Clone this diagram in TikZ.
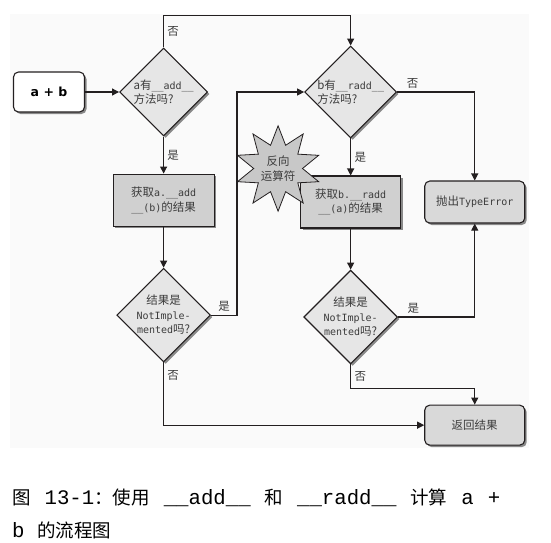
\documentclass[tikz,border=0pt]{standalone}
\usepackage{fontspec}
\setmainfont{Noto Sans CJK SC}
\setmonofont{DejaVu Sans Mono}
\newfontfamily\startfont{DejaVu Sans}
\newfontfamily\capmono{Liberation Mono}
\usetikzlibrary{shapes.geometric, arrows.meta, positioning, calc, shadows}
\usepackage{xcolor}

\definecolor{bgfill}{HTML}{FAFAFA}
\definecolor{linec}{HTML}{231F20}
\definecolor{txtc}{HTML}{3C3C3C}
\definecolor{diamfill}{HTML}{E6E6E6}
\definecolor{boxfill}{HTML}{D0D0D0}
\definecolor{termfill}{HTML}{D9D9D9}
\definecolor{starfill}{HTML}{C8C8C8}

\newcommand{\nodefont}{\fontsize{11.5}{14.5}\selectfont}
\newcommand{\code}[1]{{\ttfamily\fontsize{10}{14.5}\selectfont #1}}
\newcommand{\capcode}[1]{{\capmono\fontsize{20.7}{30}\selectfont #1}}

\begin{document}
\begin{tikzpicture}[
    x=1pt, y=1pt,
    shade/.style = {drop shadow={shadow xshift=2pt, shadow yshift=-2pt, opacity=0.45, fill=black}},
    decision/.style = {diamond, draw=linec, line width=1.1pt, fill=diamfill, minimum width=88pt, minimum height=88pt, inner sep=0pt, align=#1, font=\nodefont, text=txtc, shade},
    decision/.default = center,
    box/.style = {rectangle, draw=linec, line width=1.1pt, fill=boxfill, minimum width=101pt, minimum height=52pt, align=center, font=\nodefont, text=txtc, shade},
    term/.style = {rectangle, rounded corners=5pt, draw=linec, line width=1.1pt, fill=termfill, minimum width=100pt, minimum height=40pt, align=center, font=\nodefont, text=txtc, shade},
    burst/.style = {star, star points=10, star point ratio=1.75, draw=linec, line width=0.8pt, fill=starfill, inner sep=0pt, align=center, font=\nodefont, text=txtc},
    flow/.style = {-{Triangle[width=7pt, length=7pt]}, line width=1.1pt, draw=linec},
    lbl/.style = {font=\nodefont, text=txtc}
]

    % 0. Frame
    \useasboundingbox (0,0) rectangle (551,-542);
    \fill [bgfill] (10,-14) rectangle (529,-448);

    % 1. Left column: a.__add__
    \node [term, fill=white, minimum width=71pt, font=\startfont\bfseries\fontsize{12.5}{14}\selectfont, text=black] (start) at (49,-92) {a + b};
    \node [decision=left, right=34pt of start] (hasadd) {a有\code{\_\_add\_\_}\\方法吗?};
    \node [box, below=37pt of hasadd] (geta) {获取\code{a.\_\_add}\\\code{\_\_(b)}的结果};
    \node [decision, below=41pt of geta] (notimpa) {结果是\\\code{NotImple-}\\\code{mented}吗?};

    % 2. Middle column: b.__radd__
    \node [decision=left, right=96pt of hasadd] (hasradd) {b有\code{\_\_radd\_\_}\\方法吗?};
    \node [box, minimum width=100pt, below=37pt of hasradd] (getb) {获取\code{b.\_\_radd}\\\code{\_\_(a)}的结果};
    \node [decision, below=41pt of getb] (notimpb) {结果是\\\code{NotImple-}\\\code{mented}吗?};
    \node [burst] (reverse) at ($(getb.north west)+(-22,7)$) {反向\\运算符};

    % 3. Right column: outcomes
    \node [term, minimum height=42pt, right=23pt of getb] (raise) {抛出\code{TypeError}};
    \node [term, below=181pt of raise] (result) {返回结果};

    % 4. Connections
    \draw [flow] (start) -- (hasadd);
    \draw [flow] (hasadd.north) -- node[lbl, right] {否} ++(0,32) -| (hasradd.north);
    \draw [flow] (hasadd) -- node[lbl, right] {是} (geta);
    \draw [flow] (geta) -- (notimpa);
    \draw [flow] (notimpa.east) -- node[lbl, above] {是} ++(26,0) |- (hasradd.west);
    \draw [flow] (notimpa.south) |- node[lbl, right, pos=0.1] {否} (result.west);

    \draw [flow] (hasradd) -- node[lbl, right] {是} (getb);
    \draw [flow] (hasradd.east) -| node[lbl, above, pos=0.1] {否} (raise.north);
    \draw [flow] (getb) -- (notimpb);
    \draw [flow] (notimpb.east) -| node[lbl, above, pos=0.1] {是} (raise.south);
    \draw [flow] (notimpb.south) -- node[lbl, right] {否} ++(0,-24) -| (result.north);

    % 5. Caption
    \node [anchor=base west, font=\fontsize{18.5}{30}\selectfont, inner sep=0pt] (cap1) at (12,-504)
        {\makebox[488pt][s]{图 \capcode{13-1}：使用 \capcode{\_\_add\_\_} 和 \capcode{\_\_radd\_\_} 计算 \capcode{a} \capcode{+}}};
    \node [anchor=base west, font=\fontsize{18.5}{30}\selectfont, inner sep=0pt] (cap2) at (12,-537)
        {\capcode{b\ }的流程图};

\end{tikzpicture}
\end{document}
